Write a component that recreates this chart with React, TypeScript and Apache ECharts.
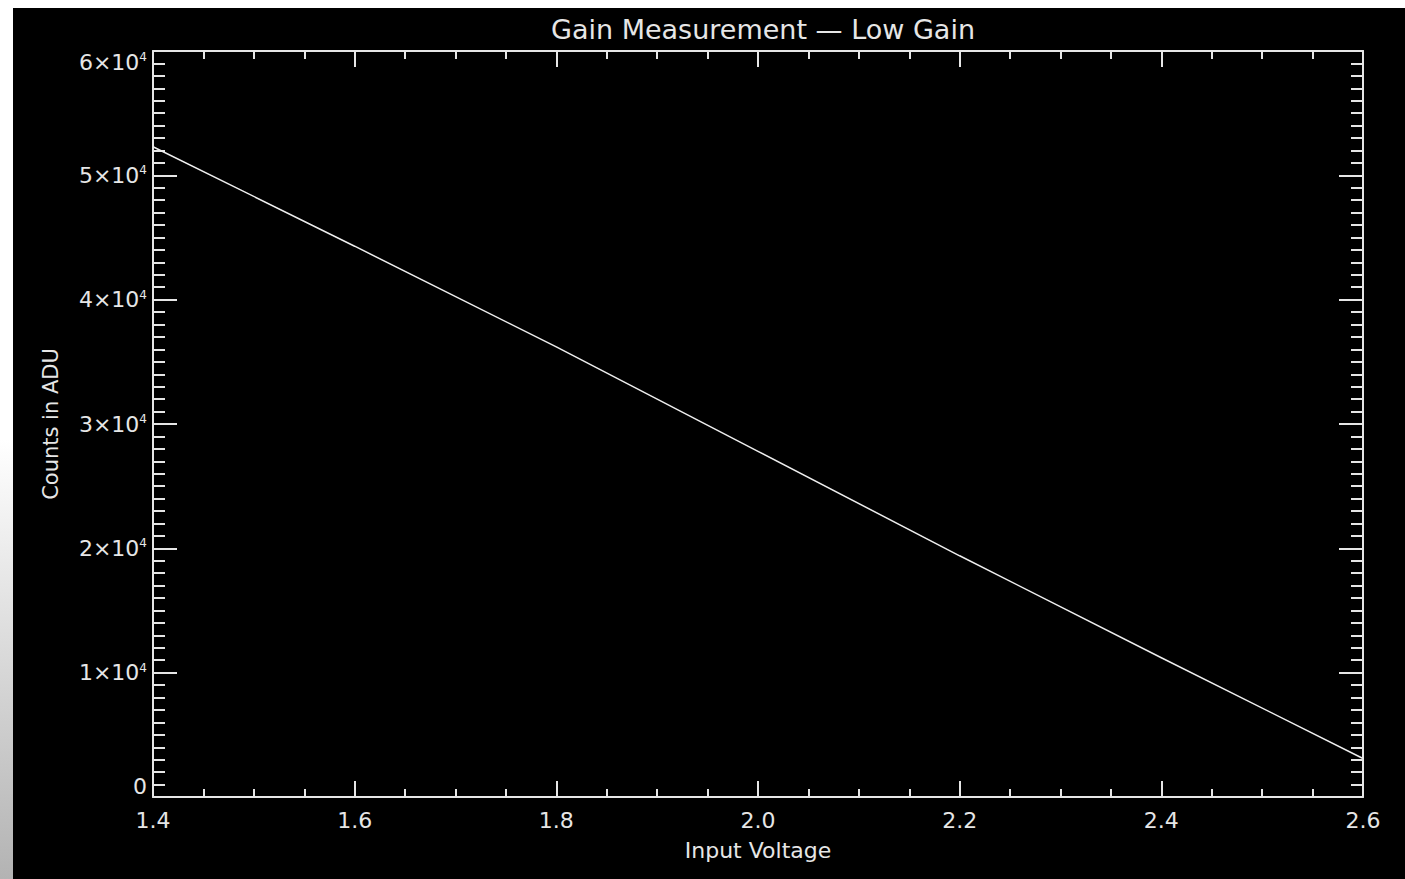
import React, { useEffect, useRef } from "react";
import * as echarts from "echarts";

const voltage = [1.4, 1.6, 1.8, 2.0, 2.2, 2.4, 2.6];
const counts = [52300, 44300, 36200, 27800, 19400, 11200, 3100];
const titleText = "Gain Measurement — Low Gain";
const xName = "Input Voltage";
const yName = "Counts in ADU";

const FONT = "DejaVu Sans";
const FG = "#e6e6e6";

export default function App() {
  const ref = useRef<HTMLDivElement>(null);
  useEffect(() => {
    if (!ref.current) return;
    const chart = echarts.init(ref.current, undefined, { renderer: "svg" });
    const yFmt = (v: number) => {
      if (v === 0) return "0";
      const m = Math.round(v / 10000);
      return `${m}×10{sup|4}`;
    };
    const labelRich = {
      sup: { fontSize: 12, fontFamily: FONT, color: FG, verticalAlign: "top", padding: [0, 0, 8, 0] },
    };
    chart.setOption({
      animation: false,
      backgroundColor: "#000000",
      title: {
        text: titleText,
        left: 745,
        top: 3,
        textAlign: "center",
        textStyle: { color: FG, fontFamily: FONT, fontSize: 27, fontWeight: "normal" },
      },
      grid: { left: 140, top: 43, right: 42, bottom: 82, containLabel: false },
      xAxis: [
        {
          type: "value",
          min: 1.4,
          max: 2.6,
          interval: 0.2,
          name: xName,
          nameLocation: "middle",
          nameGap: 42,
          nameTextStyle: { color: FG, fontFamily: FONT, fontSize: 22 },
          axisLine: { show: true, onZero: false, lineStyle: { color: FG, width: 2 } },
          axisTick: { show: true, inside: true, length: 16, lineStyle: { color: FG, width: 2 } },
          minorTick: { show: true, splitNumber: 4, length: 8, lineStyle: { color: FG, width: 2 } },
          axisLabel: {
            color: FG,
            fontFamily: FONT,
            fontSize: 22,
            margin: 12,
            formatter: (v: number) => v.toFixed(1),
          },
          splitLine: { show: false },
        },
        {
          type: "value",
          position: "top",
          min: 1.4,
          max: 2.6,
          interval: 0.2,
          axisLine: { show: true, onZero: false, lineStyle: { color: FG, width: 2 } },
          axisTick: { show: true, inside: true, length: 16, lineStyle: { color: FG, width: 2 } },
          minorTick: { show: true, splitNumber: 4, length: 8, lineStyle: { color: FG, width: 2 } },
          axisLabel: { show: false },
          splitLine: { show: false },
        },
      ],
      yAxis: [
        {
          type: "value",
          min: 0,
          max: 60000,
          interval: 10000,
          name: yName,
          nameLocation: "middle",
          nameGap: 92,
          nameTextStyle: { color: FG, fontFamily: FONT, fontSize: 21 },
          axisLine: { show: true, onZero: false, lineStyle: { color: FG, width: 2 } },
          axisTick: { show: true, inside: true, length: 24, lineStyle: { color: FG, width: 2 } },
          minorTick: { show: true, splitNumber: 10, length: 12, lineStyle: { color: FG, width: 2 } },
          axisLabel: {
            color: FG,
            fontFamily: FONT,
            fontSize: 22,
            margin: 6,
            formatter: yFmt,
            rich: labelRich,
            verticalAlignMinLabel: "bottom",
            verticalAlignMaxLabel: "top",
          },
          splitLine: { show: false },
        },
        {
          type: "value",
          position: "right",
          min: 0,
          max: 60000,
          interval: 10000,
          axisLine: { show: true, onZero: false, lineStyle: { color: FG, width: 2 } },
          axisTick: { show: true, inside: true, length: 24, lineStyle: { color: FG, width: 2 } },
          minorTick: { show: true, splitNumber: 10, length: 12, lineStyle: { color: FG, width: 2 } },
          axisLabel: { show: false },
          splitLine: { show: false },
        },
      ],
      series: [
        {
          type: "line",
          xAxisIndex: 0,
          yAxisIndex: 0,
          data: voltage.map((v, i) => [v, counts[i]]),
          showSymbol: false,
          symbol: "none",
          lineStyle: { color: "#eeeeee", width: 1.5 },
        },
      ],
    });
    return () => chart.dispose();
  }, []);

  return (
    <div
      style={{
        position: "fixed",
        left: 0,
        top: 0,
        width: 1405,
        height: 879,
        background: "#ffffff",
        overflow: "hidden",
      }}
    >
      <div
        style={{
          position: "absolute",
          left: 0,
          top: 0,
          width: 13,
          height: 879,
          background: "linear-gradient(to bottom, #ffffff 0%, #ffffff 50%, #b3b3b3 100%)",
        }}
      />
      <div
        ref={ref}
        style={{ position: "absolute", left: 13, top: 8, width: 1392, height: 871 }}
      />
    </div>
  );
}
